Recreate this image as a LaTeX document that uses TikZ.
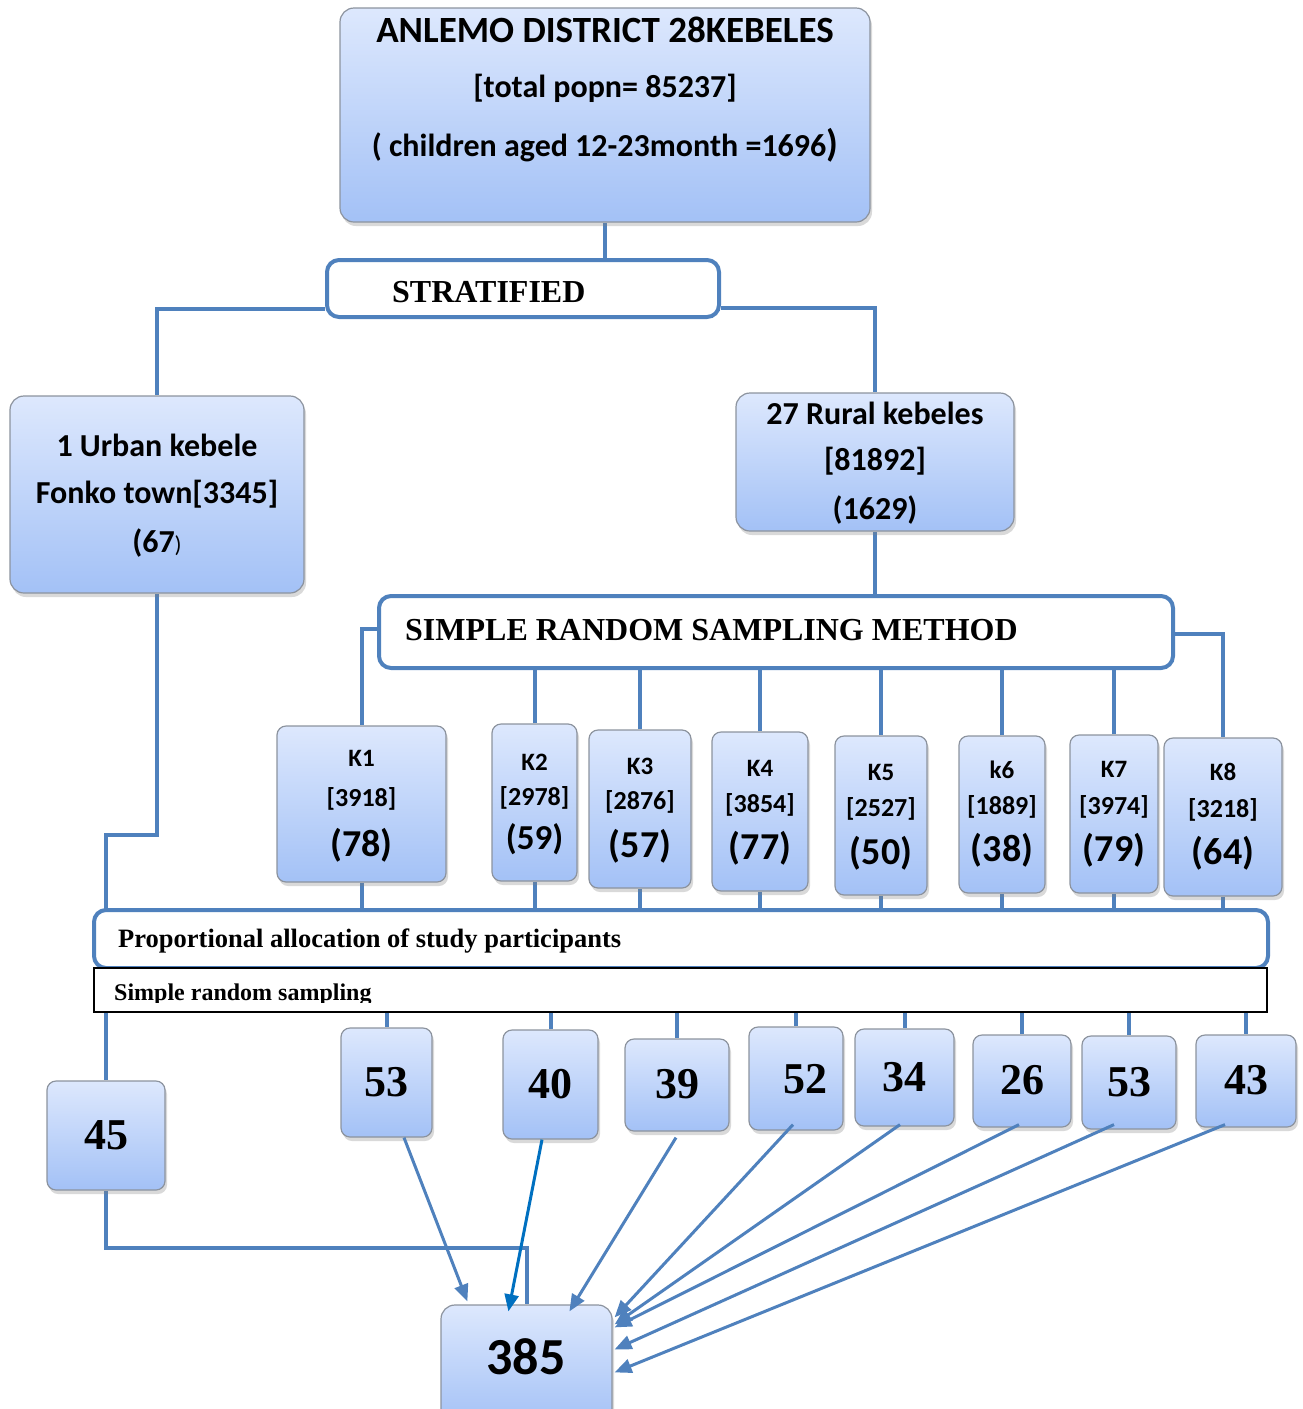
\documentclass[tikz,border=0pt]{standalone}
\usepackage{fontspec}
\setmainfont{Liberation Serif}
\newfontfamily\carlito{Carlito}
\usetikzlibrary{shadows,arrows.meta,calc}
\definecolor{lnblue}{HTML}{4F81BD}
\definecolor{darkar}{HTML}{0070C0}
\definecolor{boxtop}{HTML}{DDE8FD}
\definecolor{boxbot}{HTML}{A3C1F6}
\definecolor{boxedge}{HTML}{8C939E}
\newcommand\cbf[1]{\carlito\bfseries\fontsize{#1}{#1}\selectfont}
\newcommand\tbf[1]{\bfseries\fontsize{#1}{#1}\selectfont}
\newcommand\mkbox[6]{\node[#1, minimum width={(#5)-(#3)}, minimum height={(#6)-(#4)}] (#2) at ({((#3)+(#5))/2},{((#4)+(#6))/2}) {};}
\pgfdeclarelayer{bg}
\pgfsetlayers{bg,main}
\begin{document}
\begin{tikzpicture}[x=1pt,y=-1pt,
  gbox/.style={rectangle, rounded corners=14pt, draw=boxedge, line width=1.2pt, top color=boxtop, bottom color=boxbot, drop shadow={opacity=0.3, shadow xshift=2pt, shadow yshift=-4pt}, inner sep=0pt},
  sbox/.style={gbox, rounded corners=9pt},
  wbox/.style={rectangle, rounded corners=12pt, draw=lnblue, line width=4pt, fill=white, inner sep=0pt},
  conn/.style={draw=lnblue, line width=4pt},
  arr/.style={draw=lnblue, line width=3pt, -{Triangle[length=17pt,width=14pt]}},
  txt/.style={inner sep=0pt},
]
\useasboundingbox (0,0) rectangle (1303,1409);

% ---------- boxes ----------
\mkbox{gbox}{top}{340}{8}{870}{222}
\mkbox{wbox}{strat}{327}{260}{719}{317}
\mkbox{gbox}{urban}{10}{396}{304}{593}
\mkbox{gbox}{rural}{736}{393}{1014}{531}
\mkbox{wbox}{srs}{379}{596}{1173}{668}
\mkbox{wbox}{prop}{94}{910}{1268}{968}
\node[rectangle, draw=black, line width=1.5pt, fill=white, inner sep=0pt, minimum width=1173, minimum height=44] (srs2) at (680.5,990) {};

\foreach \nm/\xl/\yt/\xr/\yb in {K1/277/726/446/882, K2/492/724/577/881, K3/589/730/691/888, K4/712/732/808/891, K5/835/736/927/895, K6/959/736/1045/893, K7/1070/735/1158/893, K8/1164/738/1282/896}{
  \mkbox{sbox}{\nm}{\xl}{\yt}{\xr}{\yb}
}
\foreach \nm/\xl/\yt/\xr/\yb in {b45/47/1081/165/1190, b53a/341/1028/432/1137, b40/503/1030/598/1139, b39/625/1039/729/1131, b52/749/1027/843/1130, b34/855/1029/954/1126, b26/973/1035/1071/1127, b53b/1082/1036/1176/1129, b43/1196/1035/1296/1127}{
  \mkbox{sbox}{\nm}{\xl}{\yt}{\xr}{\yb}
}
\mkbox{gbox}{n385}{441}{1305}{612}{1425}

% ---------- connectors (behind) ----------
\begin{pgfonlayer}{bg}
\draw[conn] (top.south) -- (top.south |- strat.north);
\draw[conn] (strat.west |- 0,309) -| (urban.north);
\draw[conn] (strat.east |- 0,308) -| (rural.north);
\draw[conn] (rural.south) -- (rural.south |- srs.north);
\draw[conn] (srs.west |- 0,629) -| (K1.north);
\draw[conn] (srs.east |- 0,634) -| (K8.north);
\foreach \k in {K2,K3,K4,K5,K6,K7}{\draw[conn] (\k.north) -- (\k.north |- srs.south);}
\foreach \k in {K1,K2,K3,K4,K5,K6,K7,K8}{\draw[conn] (\k.south) -- (\k.south |- prop.north);}
\draw[conn] (urban.south) -- (urban.south |- 0,835) -| (b45.north);
\foreach \k in {b53a,b40,b39,b52,b34,b26,b53b,b43}{\draw[conn] (\k.north |- srs2.south) -- (\k.north);}
\draw[conn] (b45.south) -- (b45.south |- 0,1248) -| (n385.north);
\end{pgfonlayer}

% ---------- texts ----------
\node[txt, font=\cbf{37}] (t1) at (605,30) {ANLEMO DISTRICT 28KEBELES};
\node[txt, font=\cbf{32}] (t2) at (605,88) {[total popn= 85237]};
\node[txt, font=\cbf{32}] (t3) at (605,145) {( children aged 12-23month =1696{\fontsize{38}{38}\selectfont)}};
\node[txt, font=\tbf{32}, anchor=west] (tstrat) at (392,292) {STRATIFIED};
\node[txt, font=\cbf{32}] (u1) at (157,445) {1 Urban kebele};
\node[txt, font=\cbf{32}] (u2) at (157,494) {Fonko town[3345]};
\node[txt, font=\cbf{32}] (u3) at (157,543) {(67{\mdseries\fontsize{23}{23}\selectfont)}};
\node[txt, font=\cbf{32}] (r1) at (875,413) {27 Rural kebeles};
\node[txt, font=\cbf{32}] (r2) at (875,461) {[81892]};
\node[txt, font=\cbf{32}] (r3) at (875,510) {(1629)};
\node[txt, font=\tbf{32}, anchor=west] (tsrs) at (405,630) {SIMPLE RANDOM SAMPLING METHOD};
\foreach \nm/\la/\lb/\lc/\ta/\tb/\tc/\fs in {
  K1/K1/3918/78/758/799/845/38, K2/K2/2978/59/762/798/839/35, K3/K3/2876/57/766/802/846/38,
  K4/K4/3854/77/768/805/848/38, K5/K5/2527/50/772/809/853/38, K6/k6/1889/38/770/807/850/38,
  K7/K7/3974/79/769/807/850/38, K8/K8/3218/64/772/810/853/38}{
  \node[txt, font=\cbf{25}] (\nm a) at (\nm.center |- 0,\ta) {\la};
  \node[txt, font=\cbf{26}] (\nm b) at (\nm.center |- 0,\tb) {[\lb]};
  \node[txt, font=\cbf{\fs}] (\nm c) at (\nm.center |- 0,\tc) {(\lc)};
}
\node[txt, font=\tbf{26.5}, anchor=west] (tprop) at (118,941) {Proportional allocation of study participants};
\begin{scope}
\clip (95,969) rectangle (1266,1002);
\node[txt, font=\tbf{24}, anchor=base west] (tsrs2) at (114,1000) {Simple random sampling};
\end{scope}
\foreach \nm/\v/\ty in {b45/45/1135, b53a/53/1082, b40/40/1084, b39/39/1084, b34/34/1077, b26/26/1080, b53b/53/1082, b43/43/1080}{
  \node[txt, font=\tbf{44}] (\nm t) at (\nm.center |- 0,\ty) {\v};
}
\node[txt, font=\tbf{44}] (b52t) at (805,1079) {52};
\node[txt, font=\cbf{52}] (t385) at (526,1357) {385};

% ---------- arrows ----------
\draw[arr] ($(b53a.south)+(17.5,0)$) -- ($(n385.north west)+(27,-3)$);
\draw[arr, draw=darkar] ($(b40.south)+(-8.5,0)$) -- ($(n385.north west)+(68,7)$);
\draw[arr] ($(b39.south)+(-1,6)$) -- ($(n385.north west)+(129,7)$);
\draw[arr] ($(b52.south)+(-3,-6)$) -- ($(n385.north east)+(2,13)$);
\draw[arr] ($(b34.south)+(-4.5,-2)$) -- ($(n385.north east)+(2,20)$);
\draw[arr] ($(b26.south)+(-3,-3)$) -- ($(n385.north east)+(2,23)$);
\draw[arr] ($(b53b.south)+(-15,-5)$) -- ($(n385.north east)+(2,45)$);
\draw[arr] ($(b43.south)+(-21,-3)$) -- ($(n385.north east)+(2,68)$);
\end{tikzpicture}
\end{document}
